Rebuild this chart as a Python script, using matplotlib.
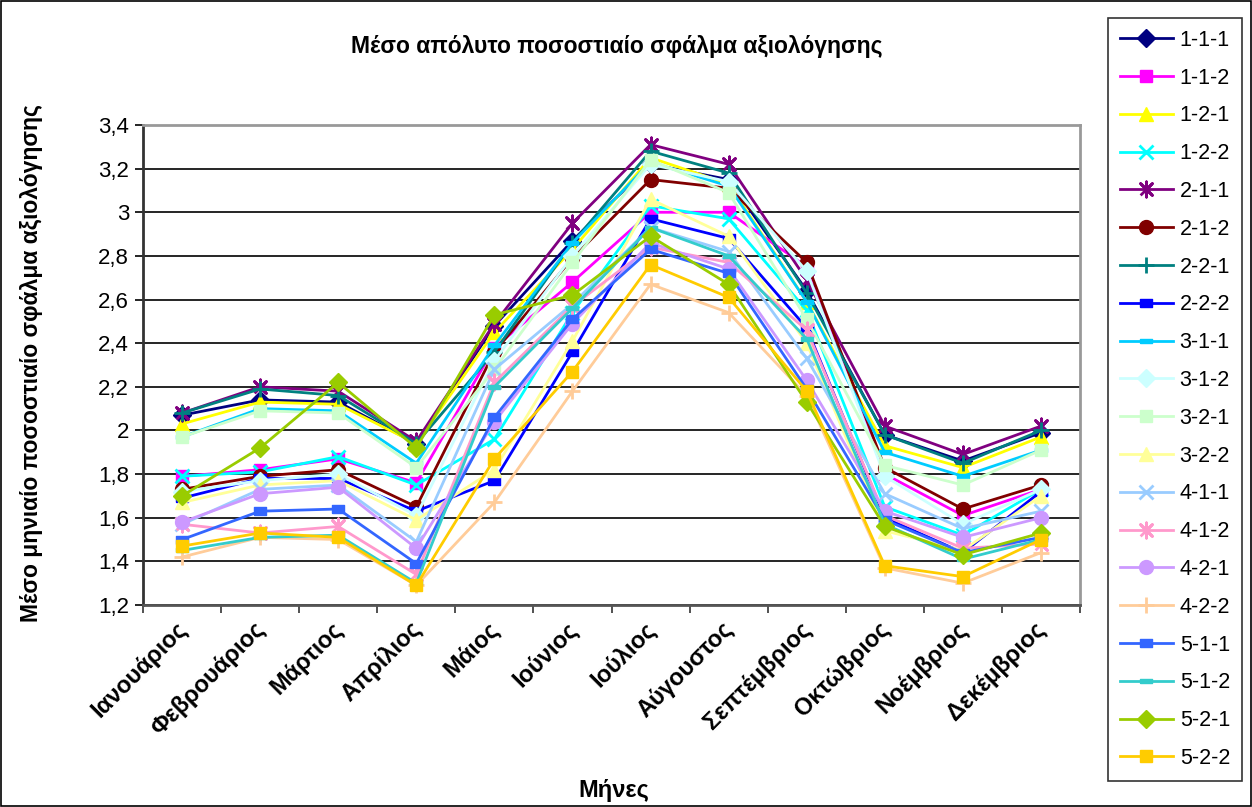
import matplotlib
matplotlib.use('Agg')
import matplotlib.pyplot as plt
import matplotlib.transforms as mtransforms
from matplotlib.ticker import FuncFormatter, MultipleLocator
import numpy as np

plt.rcParams['font.family'] = ['Liberation Sans', 'DejaVu Sans']

months = ['Ιανουάριος', 'Φεβρουάριος', 'Μάρτιος', 'Απρίλιος', 'Μάιος', 'Ιούνιος',
          'Ιούλιος', 'Αύγουστος', 'Σεπτέμβριος', 'Οκτώβριος', 'Νοέμβριος', 'Δεκέμβριος']

labels = ['1-1-1', '1-1-2', '1-2-1', '1-2-2', '2-1-1', '2-1-2', '2-2-1', '2-2-2',
          '3-1-1', '3-1-2', '3-2-1', '3-2-2', '4-1-1', '4-1-2', '4-2-1', '4-2-2',
          '5-1-1', '5-1-2', '5-2-1', '5-2-2']

s111 = [2.07, 2.14, 2.13, 1.94, 2.48, 2.87, 3.22, 3.15, 2.64, 1.98, 1.86, 1.99]
s112 = [1.79, 1.82, 1.87, 1.76, 2.38, 2.68, 3.00, 3.00, 2.75, 1.80, 1.61, 1.73]
s121 = [2.03, 2.13, 2.12, 1.94, 2.45, 2.83, 3.25, 3.13, 2.59, 1.93, 1.83, 1.97]
s122 = [1.79, 1.81, 1.88, 1.75, 1.96, 2.54, 3.03, 2.97, 2.55, 1.65, 1.52, 1.73]
s211 = [2.08, 2.20, 2.18, 1.95, 2.49, 2.95, 3.31, 3.22, 2.69, 2.02, 1.89, 2.02]
s212 = [1.73, 1.79, 1.82, 1.65, 2.36, 2.79, 3.15, 3.11, 2.77, 1.83, 1.64, 1.75]
s221 = [2.08, 2.19, 2.16, 1.94, 2.36, 2.86, 3.28, 3.18, 2.63, 1.98, 1.85, 2.00]
s222 = [1.69, 1.78, 1.78, 1.63, 1.77, 2.36, 2.97, 2.88, 2.47, 1.60, 1.44, 1.72]
s311 = [1.97, 2.10, 2.09, 1.85, 2.39, 2.86, 3.23, 3.12, 2.59, 1.90, 1.79, 1.91]
s312 = [1.72, 1.77, 1.80, 1.61, 2.32, 2.80, 3.22, 3.14, 2.73, 1.79, 1.57, 1.73]
s321 = [1.97, 2.09, 2.08, 1.83, 2.28, 2.77, 3.24, 3.09, 2.51, 1.84, 1.75, 1.91]
s322 = [1.67, 1.75, 1.77, 1.59, 1.82, 2.41, 3.06, 2.89, 2.40, 1.54, 1.45, 1.70]
s411 = [1.57, 1.73, 1.75, 1.49, 2.28, 2.58, 2.93, 2.82, 2.33, 1.71, 1.55, 1.63]
s412 = [1.57, 1.53, 1.56, 1.34, 2.22, 2.57, 2.84, 2.77, 2.46, 1.61, 1.46, 1.48]
s421 = [1.58, 1.71, 1.74, 1.46, 2.04, 2.49, 2.86, 2.74, 2.23, 1.63, 1.51, 1.60]
s422 = [1.42, 1.51, 1.50, 1.29, 1.67, 2.18, 2.67, 2.54, 2.16, 1.37, 1.30, 1.44]
s511 = [1.50, 1.63, 1.64, 1.39, 2.06, 2.51, 2.83, 2.72, 2.19, 1.59, 1.44, 1.51]
s512 = [1.45, 1.51, 1.52, 1.30, 2.20, 2.56, 2.93, 2.80, 2.42, 1.57, 1.41, 1.50]
s521 = [1.70, 1.92, 2.22, 1.92, 2.53, 2.62, 2.89, 2.67, 2.13, 1.56, 1.43, 1.53]
s522 = [1.47, 1.53, 1.51, 1.29, 1.87, 2.27, 2.76, 2.61, 2.18, 1.38, 1.33, 1.50]

series = [s111, s112, s121, s122, s211, s212, s221, s222, s311, s312,
          s321, s322, s411, s412, s421, s422, s511, s512, s521, s522]

colors = ['#000080', '#FF00FF', '#FFFF00', '#00FFFF', '#800080', '#800000',
          '#008080', '#0000FF', '#00CCFF', '#CCFFFF', '#CCFFCC', '#FFFF99',
          '#99CCFF', '#FF99CC', '#CC99FF', '#FFCC99', '#3366FF', '#33CCCC',
          '#99CC00', '#FFCC00']

# excel-like markers
short_dash = [(-0.6, -0.35), (0.6, -0.35), (0.6, 0.35), (-0.6, 0.35), (-0.6, -0.35)]
long_dash = [(-1, -0.3), (1, -0.3), (1, 0.3), (-1, 0.3), (-1, -0.3)]
star = [(-1, -1), (1, 1), (0, 0), (-1, 1), (1, -1), (0, 0), (0, 1.3), (0, -1.3), (0, 0)]
marker_cycle = ['D', 's', '^', 'x', star, 'o', '+', short_dash, long_dash, 'D',
                's', '^', 'x', star, 'o', '+', short_dash, long_dash, 'D', 's']
msizes = [9, 9, 10, 10, 11, 10, 11, 9, 9, 9, 9, 10, 10, 11, 10, 11, 9, 9, 9, 9]

fig = plt.figure(figsize=(12.52, 8.07), dpi=100)
ax = fig.add_axes([143 / 1252, 1 - 605 / 807, (1080 - 143) / 1252, 480 / 807])

x = np.arange(len(months))
for vals, lab, col, mk, ms in zip(series, labels, colors, marker_cycle, msizes):
    filled = mk not in ('x', '+') and mk is not star
    ax.plot(x, vals, color=col, lw=2, marker=mk, markersize=ms,
            markerfacecolor=col, markeredgecolor=col,
            markeredgewidth=2 if not filled else 1, label=lab)


def comma_fmt(v, pos):
    s = f'{v:.1f}'.replace('.', ',')
    return s[:-2] if s.endswith(',0') else s


ax.set_xlim(-0.5, len(months) - 0.5)
ax.set_ylim(1.2, 3.4)
ax.yaxis.set_major_locator(MultipleLocator(0.2))
ax.yaxis.set_major_formatter(FuncFormatter(comma_fmt))
ax.grid(axis='y', color='black', lw=1.2)
ax.set_axisbelow(True)

ax.set_xticks(x)
ax.set_xticklabels(months, rotation=45, ha='right', rotation_mode='anchor',
                   fontsize=17, fontweight='bold')
ax.set_xticks(np.arange(-0.5, len(months)), minor=True)
ax.tick_params(axis='x', which='major', length=0, pad=9)
ax.tick_params(axis='x', which='minor', length=6, width=1.2, color='#333333')
ax.tick_params(axis='y', length=6, width=1.2, labelsize=16, pad=4)

# nudge the slanted month labels a little to the left
shift = mtransforms.ScaledTranslation(-7 / 100, 0, fig.dpi_scale_trans)
for lbl in ax.get_xticklabels():
    lbl.set_transform(lbl.get_transform() + shift)

for side in ['top', 'right']:
    ax.spines[side].set_color('#999999')
    ax.spines[side].set_linewidth(2)
ax.spines['left'].set_color('#333333')
ax.spines['left'].set_linewidth(2)
ax.spines['bottom'].set_color('#555555')
ax.spines['bottom'].set_linewidth(2)

fig.text(617 / 1252, 1 - 47 / 807, 'Μέσο απόλυτο ποσοστιαίο σφάλμα αξιολόγησης',
         ha='center', va='center', fontsize=16.5, fontweight='bold')
fig.text(32 / 1252, 1 - 363 / 807, 'Μέσο μηνιαίο ποσοστιαίο σφάλμα αξιολόγησης',
         ha='center', va='center', rotation=90, fontsize=16.5, fontweight='bold')
fig.text(614 / 1252, 1 - 790 / 807, 'Μήνες', ha='center', va='center',
         fontsize=17, fontweight='bold')

leg = fig.legend(loc='upper left', bbox_to_anchor=(1108 / 1252, 1 - 18 / 807),
                 frameon=True, fancybox=False, edgecolor='black', fontsize=15.5,
                 labelspacing=0.78, handlelength=2.45, handletextpad=0.33,
                 borderpad=0.55, borderaxespad=0)
leg.get_frame().set_linewidth(1.2)

# outer chart border
fig.add_artist(plt.Rectangle((1 / 1252, 1 / 807), 1250 / 1252, 805 / 807,
                             transform=fig.transFigure, fill=False,
                             edgecolor='black', lw=1.2))

fig.savefig('out.png', dpi=100)
